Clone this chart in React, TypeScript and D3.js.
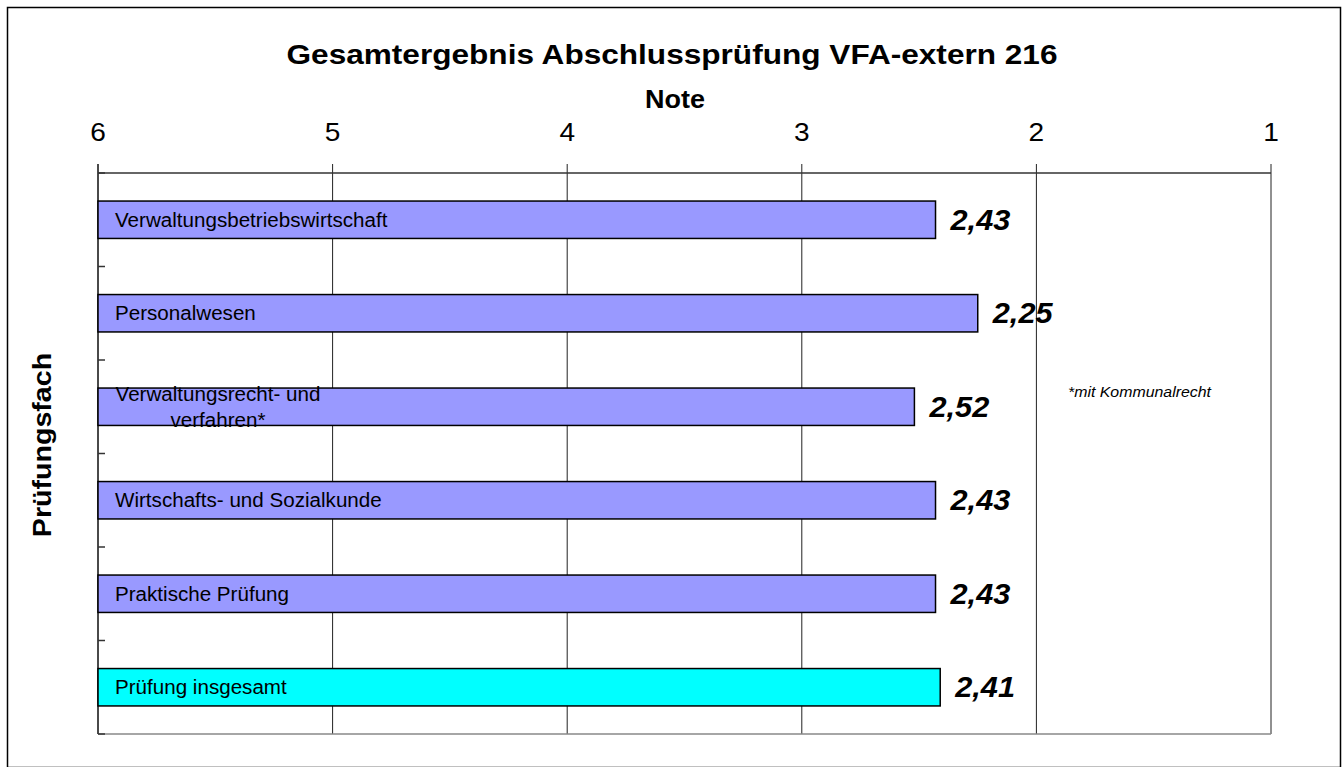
import React from "react";
import * as d3 from "d3";

const categories = [
  "Verwaltungsbetriebswirtschaft",
  "Personalwesen",
  "Verwaltungsrecht- und\nverfahren*",
  "Wirtschafts- und Sozialkunde",
  "Praktische Prüfung",
  "Prüfung insgesamt",
];
const values = [2.43, 2.25, 2.52, 2.43, 2.43, 2.41];
const valueLabels = ["2,43", "2,25", "2,52", "2,43", "2,43", "2,41"];
const totalCategory = "Prüfung insgesamt";
const xTicks = [6, 5, 4, 3, 2, 1];
const title = "Gesamtergebnis Abschlussprüfung VFA-extern 216";
const xTitle = "Note";
const yTitle = "Prüfungsfach";
const footnote = "*mit Kommunalrecht";

const W = 1342;
const H = 767;
const FONT = "'Liberation Sans', Arial, sans-serif";

type TxtProps = {
  x: number;
  y: number;
  sx?: number;
  rotate?: number;
  size: number;
  anchor?: "start" | "middle" | "end";
  weight?: string;
  italic?: boolean;
  children: React.ReactNode;
};

function Txt({ x, y, sx = 1, rotate = 0, size, anchor = "start", weight = "normal", italic = false, children }: TxtProps) {
  return (
    <g transform={`translate(${x},${y}) rotate(${rotate}) scale(${sx},1)`}>
      <text
        x={0}
        y={0}
        fontFamily={FONT}
        fontSize={size}
        fontWeight={weight}
        fontStyle={italic ? "italic" : "normal"}
        textAnchor={anchor}
        fill="#000"
      >
        {children}
      </text>
    </g>
  );
}

export default function App() {
  const left = 98;
  const right = 1271;
  const top = 173;
  const bottom = 734;

  const x = d3.scaleLinear().domain([6, 1]).range([left, right]);
  const y = d3
    .scaleBand<string>()
    .domain(categories)
    .range([top, bottom])
    .paddingInner(0.6)
    .paddingOuter(0.3);
  const step = (bottom - top) / categories.length;
  const boundaries = d3.range(categories.length + 1).map((i) => top + i * step);

  return (
    <div style={{ position: "absolute", left: 0, top: 0 }}>
      <svg width={W} height={H} style={{ display: "block", background: "#fff" }}>
        <rect x={7.5} y={7.5} width={1333} height={760} fill="#fff" stroke="#000" strokeWidth={1.5} />

        <Txt x={672} y={64} size={27} weight="bold" anchor="middle" sx={1.17}>
          {title}
        </Txt>
        <Txt x={675} y={108} size={25} weight="bold" anchor="middle" sx={1.08}>
          {xTitle}
        </Txt>

        {xTicks.map((t) => (
          <g key={t}>
            <line x1={x(t)} x2={x(t)} y1={164} y2={bottom} stroke="#222" strokeWidth={1} />
            <Txt x={x(t)} y={141} size={26} anchor="middle" sx={1.08}>
              {String(t)}
            </Txt>
          </g>
        ))}

        <line x1={left} x2={right} y1={top} y2={top} stroke="#333" strokeWidth={1.5} />
        <line x1={left} x2={right} y1={bottom} y2={bottom} stroke="#888" strokeWidth={1.5} />
        <line x1={left} x2={left} y1={164} y2={bottom} stroke="#333" strokeWidth={1.5} />
        {boundaries.map((b, i) => (
          <line key={i} x1={left} x2={left + 7} y1={b} y2={b} stroke="#333" strokeWidth={1.5} />
        ))}

        {categories.map((c, i) => {
          const y0 = y(c) as number;
          const bw = y.bandwidth();
          const cy = y0 + bw / 2;
          const xe = x(values[i]);
          const lines = c.split("\n");
          return (
            <g key={c}>
              <rect
                x={left}
                y={y0}
                width={xe - left}
                height={bw}
                fill={c === totalCategory ? "#00FFFF" : "#9999FF"}
                stroke="#000"
                strokeWidth={1.5}
              />
              {lines.length === 1 ? (
                <Txt x={left + 17} y={cy + 7} size={20} sx={1.03}>
                  {lines[0]}
                </Txt>
              ) : (
                lines.map((ln, k) => (
                  <Txt key={k} x={218} y={cy - 6 + k * 26} size={20} sx={1.03} anchor="middle">
                    {ln}
                  </Txt>
                ))
              )}
              <Txt x={xe + 15} y={cy + 10} size={29} weight="bold" italic sx={1.06}>
                {valueLabels[i]}
              </Txt>
            </g>
          );
        })}

        <Txt x={1068} y={397} size={15} italic sx={1.06}>
          {footnote}
        </Txt>

        <Txt x={51} y={445} size={26} weight="bold" anchor="middle" rotate={-90} sx={1.1}>
          {yTitle}
        </Txt>
      </svg>
    </div>
  );
}
